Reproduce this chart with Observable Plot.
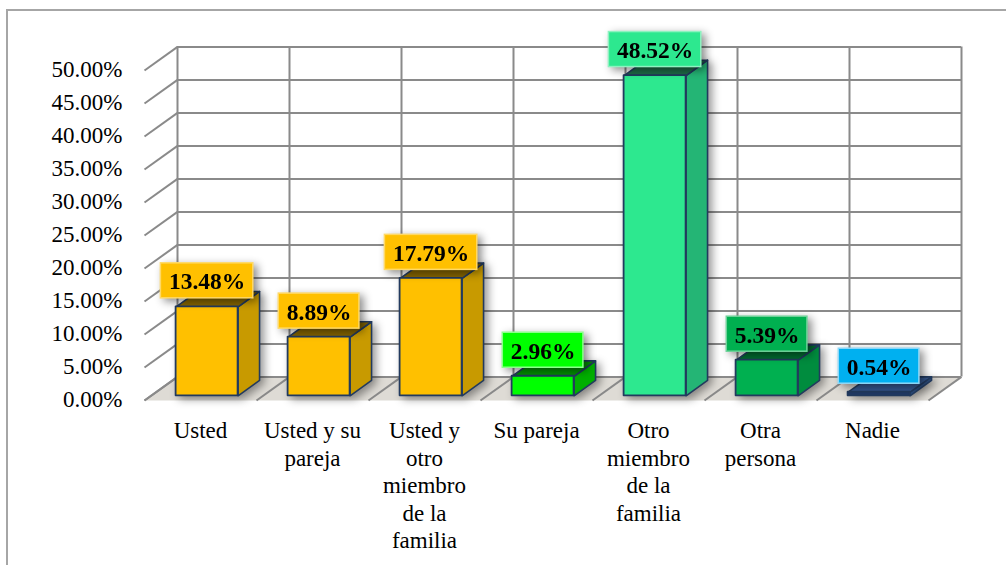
<!DOCTYPE html>
<html>
<head>
<meta charset="utf-8">
<script src="https://cdn.jsdelivr.net/npm/d3@7"></script>
<script src="https://cdn.jsdelivr.net/npm/@observablehq/plot@0.6"></script>
<style>
  body { margin: 0; background: #fff; }
  #wrap { position: relative; width: 1006px; height: 565px; overflow: hidden; background: #fff; }
  #frame { position: absolute; left: 6px; top: 9px; width: 1100px; height: 700px;
           border-top: 2px solid #A6A6A6; border-left: 2px solid #A6A6A6; }
  #chart { position: absolute; left: 0; top: 0; }
  #chart svg text { font-family: "Liberation Serif", serif !important; }
  g.label-box { filter: drop-shadow(4px 3px 4px rgba(0,0,0,0.45)); }
</style>
</head>
<body>
<div id="wrap"><div id="frame"></div><div id="chart"></div></div>
<script>
// ---- data ----
const categories = ["Usted", "Usted y su pareja", "Usted y otro miembro de la familia", "Su pareja",
                    "Otro miembro de la familia", "Otra persona", "Nadie"];
const categoryLines = ["Usted", "Usted y su\npareja", "Usted y\notro\nmiembro\nde la\nfamilia", "Su pareja",
                       "Otro\nmiembro\nde la\nfamilia", "Otra\npersona", "Nadie"];
const values = [13.48, 8.89, 17.79, 2.96, 48.52, 5.39, 0.54];
const yTicks = [0, 5, 10, 15, 20, 25, 30, 35, 40, 45, 50];

// ---- styles ----
const frontColors = ["#FFC000", "#FFC000", "#FFC000", "#00FF00", "#2DE88F", "#00B050", "#1F3864"];
const sideColors  = ["#C89A00", "#C89A00", "#C89A00", "#00B000", "#24B575", "#008C3E", "#2A4A7A"];
const topColors   = ["#846400", "#846400", "#846400", "#009000", "#1E6A47", "#006A2F", "#34568C"];
const labelFills  = ["#FFC000", "#FFC000", "#FFC000", "#00FF00", "#2DE88F", "#00B050", "#00B0F0"];
const labelEdges  = ["#FFD966", "#FFD966", "#FFD966", "#8CFF8C", "#8EF2C0", "#6FD39A", "#8ED8F8"];

// ---- layout ----
const W = 1006, H = 565, ML = 144, MR = 78, MT = 70, MB = 165;
const N = categories.length;
const yMax = 50;
const pxX = (W - ML - MR) / N;
const pxY = (H - MT - MB) / yMax;
const depthPx = [33, 23.6];
const Dx = depthPx[0] / pxX, Dy = depthPx[1] / pxY;
const fFront = 0.2, fBack = 0.85;
const halfW = 31 / pxX;
const serif = "Liberation Serif, serif";
const labelSize = 23.5, axisSize = 23;

const ctx = document.createElement("canvas").getContext("2d");
ctx.font = `bold ${labelSize}px 'Liberation Serif'`;

// ---- geometry derived from data in scale units ----
const sidePolys = [], topPolys = [], fronts = [], labels = [];
values.forEach((v, i) => {
  const c = i + 0.5;
  const xl = c - halfW + fFront * Dx, xr = c + halfW + fFront * Dx;
  const y0 = fFront * Dy, yt = v + fFront * Dy;
  const ddx = (fBack - fFront) * Dx, ddy = (fBack - fFront) * Dy;
  fronts.push({x1: xl, x2: xr, y1: y0, y2: yt, fill: frontColors[i]});
  sidePolys.push([[xr, y0], [xr, yt], [xr + ddx, yt + ddy], [xr + ddx, y0 + ddy], [xr, y0]].map(([x, y]) => ({x, y})));
  topPolys.push([[xl, yt], [xr, yt], [xr + ddx, yt + ddy], [xl + ddx, yt + ddy], [xl, yt]].map(([x, y]) => ({x, y})));
  const text = v.toFixed(2) + "%";
  const tw = ctx.measureText(text).width + 16;
  const cx = c + fFront * Dx, cy = yt + 26 / pxY;
  labels.push({text, cx, cy, x1: cx - tw / 2 / pxX, x2: cx + tw / 2 / pxX,
               y1: cy - 17.5 / pxY, y2: cy + 17.5 / pxY, fill: labelFills[i], edge: labelEdges[i]});
});

const floor = [[0, 0], [N, 0], [N + Dx, Dy], [Dx, Dy], [0, 0]].map(([x, y]) => ({x, y}));
const bounds = d3.range(N + 1);
const outline = {stroke: "#223A5E", strokeWidth: 1.6, strokeLinejoin: "round"};

const plot = Plot.plot({
  width: W, height: H,
  marginLeft: ML, marginRight: MR, marginTop: MT, marginBottom: MB,
  x: {domain: [0, N], axis: null},
  y: {domain: [0, yMax], axis: null},
  color: {type: "identity"},
  style: {fontSize: "20px", background: "transparent", overflow: "visible"},
  marks: [
    // floor
    Plot.line(floor, {x: "x", y: "y", fill: "#DEDBD5", stroke: "none"}),
    Plot.link(bounds, {x1: d => d, y1: () => 0, x2: d => d + Dx, y2: () => Dy, stroke: "#8A8A8A", strokeWidth: 2}),
    // side wall diagonals
    Plot.link(yTicks, {x1: () => 0, y1: d => d, x2: () => Dx, y2: d => d + Dy, stroke: "#8A8A8A", strokeWidth: 2}),
    // back wall grid
    Plot.ruleY(yTicks, {y: d => d, x1: 0, x2: N, dx: depthPx[0], dy: -depthPx[1], stroke: "#8A8A8A", strokeWidth: 2, strokeOpacity: 1}),
    Plot.ruleX(bounds, {x: d => d, y1: 0, y2: yMax, dx: depthPx[0], dy: -depthPx[1], stroke: "#8A8A8A", strokeWidth: 2, strokeOpacity: 1}),
    // bars: side and top faces, one mark per bar
    sidePolys.map((poly, i) => Plot.line(poly, {x: "x", y: "y", fill: sideColors[i], ...outline, className: "bar-face"})),
    topPolys.map((poly, i) => Plot.line(poly, {x: "x", y: "y", fill: topColors[i], ...outline, className: "bar-face"})),
    Plot.rect(fronts, {x1: "x1", x2: "x2", y1: "y1", y2: "y2", fill: "fill", ...outline, strokeWidth: 1.8, className: "bar-face"}),
    // data labels
    Plot.rect(labels, {x1: "x1", x2: "x2", y1: "y1", y2: "y2", fill: "fill", stroke: "edge", strokeWidth: 1.5, className: "label-box"}),
    Plot.text(labels, {x: "cx", y: "cy", text: "text", fontSize: labelSize, fontWeight: "bold", fontFamily: serif, fill: "#000", dy: 1}),
    // y tick labels
    Plot.text(yTicks, {x: () => 0, y: d => d, text: d => d.toFixed(2) + "%", textAnchor: "end", dx: -22, dy: -1,
                       fontSize: axisSize, fontFamily: serif, fill: "#000"}),
    // category labels
    Plot.text(categoryLines, {x: (d, i) => i + 0.5, y: () => 0, text: d => d, lineAnchor: "top", lineHeight: 1.2,
                              dy: 18, fontSize: axisSize, fontFamily: serif, fill: "#000"})
  ]
});

// group bar faces so they cast one shadow
const shadowG = document.createElementNS("http://www.w3.org/2000/svg", "g");
shadowG.setAttribute("style", "filter: drop-shadow(4px 3px 4px rgba(0,0,0,0.4))");
const barGroups = plot.querySelectorAll("g.bar-face");
if (barGroups.length) {
  barGroups[0].parentNode.insertBefore(shadowG, barGroups[0]);
  barGroups.forEach(g => shadowG.appendChild(g));
}

document.getElementById("chart").appendChild(plot);
</script>
</body>
</html>
